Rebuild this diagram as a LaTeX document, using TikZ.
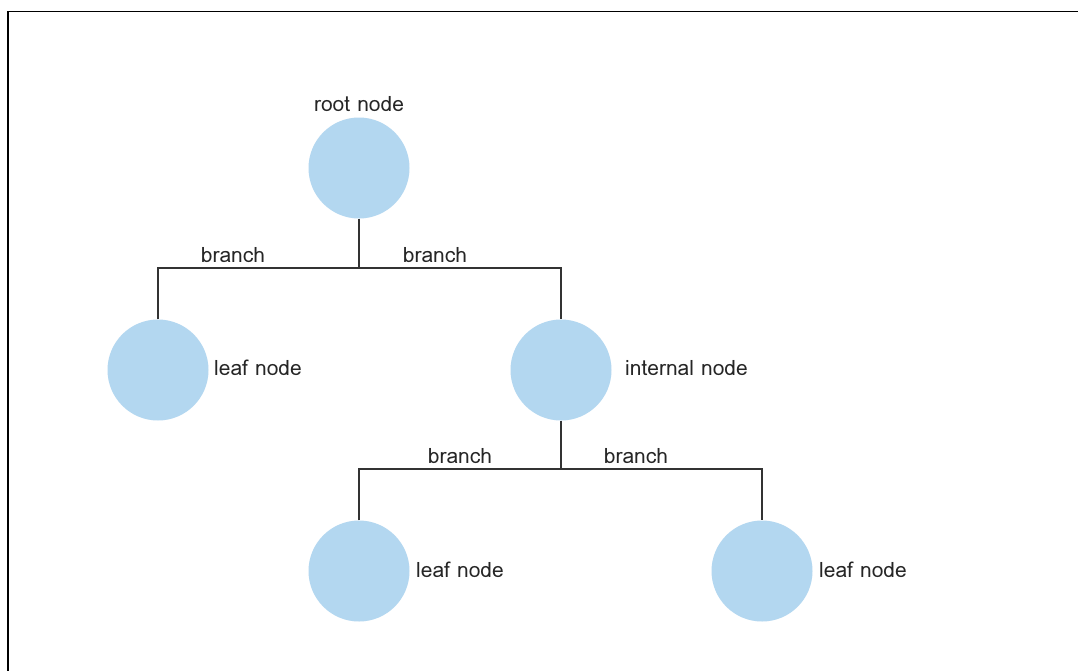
\documentclass[tikz,border=0pt]{standalone}
\usepackage{fontspec}
\newfontfamily\labelfont[Script=Thai]{Loma}
\begin{document}
\begin{tikzpicture}[x=1pt,y=-1pt,
  treenode/.style={circle,fill=nodeblue,draw=none,minimum size=101pt,inner sep=0pt},
  lbl/.style={font=\labelfont\fontsize{21}{24}\selectfont,text=black!85,inner sep=0pt},
  branchline/.style={draw=black!80,line width=2.2pt}]
\definecolor{nodeblue}{HTML}{B3D7F0}
\useasboundingbox (0,0) rectangle (1078,670);
\fill[white] (0,0) rectangle (1078,670);
% outer frame (runs off the right and bottom edges)
\draw[line width=1.5pt,black] (8,690) -- (8,11.5) -- (1100,11.5);

% nodes
\node[treenode] (root) at (359,168) {};
\node[treenode] (leafA) at (158,370) {};
\node[treenode] (inner) at (561,370) {};
\node[treenode] (leafB) at (359,571) {};
\node[treenode] (leafC) at (762,571) {};

% junction points
\coordinate (j1) at (359,268);
\coordinate (j2) at (561,469);

% branches
\draw[branchline] (root.south) -- (j1);
\draw[branchline] (leafA.north) |- (j1) -| (inner.north);
\draw[branchline] (inner.south) -- (j2);
\draw[branchline] (leafB.north) |- (j2) -| (leafC.north);

% labels
\node[lbl] (tRoot) at (359,104) {root node};
\node[lbl] (tB1) at (233,255) {branch};
\node[lbl] (tB2) at (435,255) {branch};
\node[lbl,anchor=west] (tLeafA) at (214,368) {leaf node};
\node[lbl,anchor=west] (tInner) at (625,368) {internal node};
\node[lbl] (tB3) at (460,456) {branch};
\node[lbl] (tB4) at (636,456) {branch};
\node[lbl,anchor=west] (tLeafB) at (416,570) {leaf node};
\node[lbl,anchor=west] (tLeafC) at (819,570) {leaf node};
\end{tikzpicture}
\end{document}
